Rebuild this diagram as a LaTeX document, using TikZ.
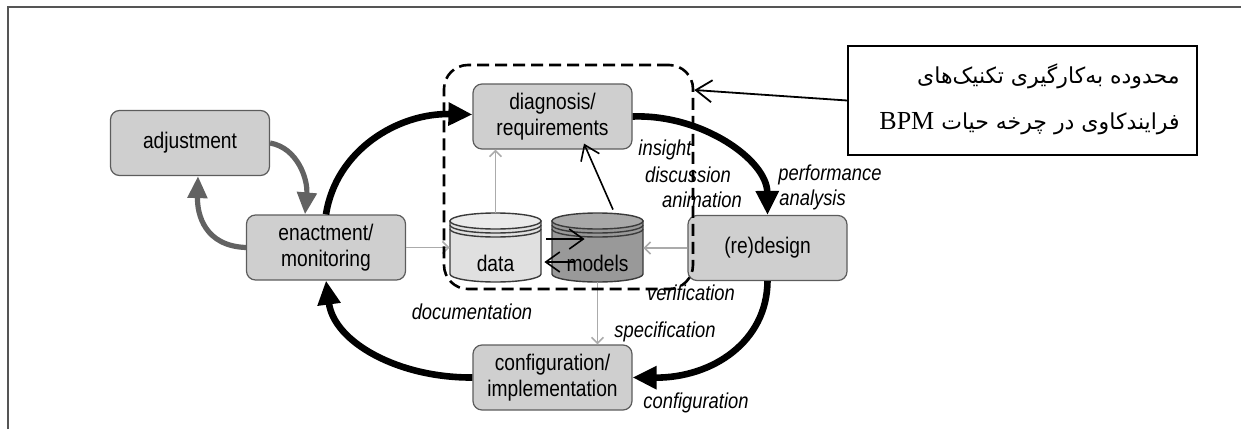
\documentclass[tikz,border=0pt]{standalone}
\usepackage{fontspec}
\setmainfont{Liberation Sans}
\newfontfamily\narrowsans[FakeStretch=0.85]{Liberation Sans}
\newfontfamily\arabicfont[Script=Arabic]{DejaVu Sans}
\newfontfamily\latinserif{Liberation Serif}
\TeXXeTstate=1
\usetikzlibrary{arrows.meta,calc}

\definecolor{boxfill}{HTML}{CFCFCF}
\definecolor{boxline}{HTML}{5C5C5C}
\definecolor{linkgray}{HTML}{ABABAB}
\definecolor{loopgray}{HTML}{626262}
\definecolor{framegray}{HTML}{555555}
\definecolor{datafill}{HTML}{E0E0E0}
\definecolor{datatop}{HTML}{EAEAEA}
\definecolor{modelfill}{HTML}{999999}
\definecolor{modeltop}{HTML}{A8A8A8}
\definecolor{drumline}{HTML}{3A3A3A}

\tikzset{
  phase/.style={draw=boxline, line width=0.6pt, fill=boxfill, rounded corners=4.5pt,
    minimum width=79.5pt, minimum height=32.5pt, inner sep=0pt, align=center,
    font=\narrowsans\fontsize{11.3}{12.7}\selectfont},
  store/.style={minimum width=45.5pt, minimum height=34.5pt, inner sep=0pt},
  storelabel/.style={inner sep=0pt, font=\narrowsans\fontsize{11.3}{12}\selectfont},
  cycle/.style={line width=3.3pt, black, -{Triangle[length=12pt,width=11pt]}},
  adjloop/.style={line width=2.6pt, loopgray, -{Triangle[length=11pt,width=9.5pt]}},
  feed/.style={line width=0.8pt, linkgray, -{Straight Barb[length=3pt,width=6pt]}},
  flow/.style={line width=0.8pt, black, -{Straight Barb[length=7pt,width=10pt]}},
  tag/.style={inner sep=0pt, font=\narrowsans\fontsize{10.8}{11}\selectfont\itshape},
  zonebox/.style={draw, black, line width=1.3pt, dash pattern=on 6pt off 3pt,
    rounded corners=12pt, minimum width=124.5pt, minimum height=112pt, inner sep=0pt},
  notebox/.style={draw, black, line width=0.9pt, minimum width=174.5pt,
    minimum height=54.5pt, inner sep=0pt},
  notetext/.style={anchor=east, inner sep=0pt, font=\arabicfont\fontsize{11}{14}\selectfont},
  pointer/.style={line width=0.9pt, black, -{Straight Barb[length=8pt,width=11pt]}},
}

% one storage drum: top ellipse centred at the shift point, units in px, y up
\newcommand{\drawdrum}[3]{%
  \begin{scope}[shift={(#1)}, x=0.5pt, y=0.5pt]
    \filldraw[fill=#2, draw=drumline, line width=0.7pt]
      (-45.5,0) -- (-45.5,-53)
      arc[start angle=180, end angle=360, x radius=45.5, y radius=8]
      -- (45.5,0) -- cycle;
    \filldraw[fill=#3, draw=drumline, line width=0.7pt]
      (0,0) ellipse[x radius=45.5, y radius=8];
    \draw[drumline, line width=0.7pt]
      (-45.5,-4) arc[start angle=180, end angle=360, x radius=45.5, y radius=8];
    \draw[drumline, line width=0.7pt]
      (-45.5,-8) arc[start angle=180, end angle=360, x radius=45.5, y radius=8];
  \end{scope}}

\begin{document}
\begin{tikzpicture}[x=0.5pt, y=-0.5pt]
\useasboundingbox (0,0) rectangle (1243,429);

% page frame
\draw[framegray, line width=1pt] (8,429) -- (8,7) -- (1241,7);

% life-cycle phases
\node[phase] (adjust) at (190,143) {adjustment};
\node[phase] (enact) at (326,247.5) {enactment/\\monitoring};
\node[phase] (diag) at (552.5,116.5) {diagnosis/\\requirements};
\node[phase] (redesign) at (767.5,248) {(re)design};
\node[phase] (config) at (552.5,377.5) {configuration/\\implementation};

% data and model stores
\drawdrum{495.5,221}{datafill}{datatop}
\drawdrum{597.5,221}{modelfill}{modeltop}
\node[store] (data) at (495.5,247.5) {};
\node[store] (models) at (597.5,247.5) {};
\node[storelabel] (datatext) at (495.5,263) {data};
\node[storelabel] (modeltext) at (597.5,263) {models};

% thin gray information links
\draw[feed] (enact.east) -- (enact.east -| data.west);
\draw[feed] (data.north) -- (data.north |- diag.south);
\draw[feed] (redesign.west) -- (redesign.west -| models.east);
\draw[feed] (models.south) -- (models.south |- config.north);

% exchange between the stores
\draw[flow] ([shift={(2.5pt,4.25pt)}]data.east) -- ([shift={(16.5pt,4.25pt)}]models.west);
\draw[flow] ([shift={(11.5pt,-7.25pt)}]models.west) -- ([shift={(1.5pt,-7.25pt)}]data.east);
\draw[flow] ([shift={(7.75pt,1.5pt)}]models.north) -- ([shift={(15.75pt,3pt)}]diag.south);

% main cycle
\draw[cycle] (enact.north) .. controls (336,150) and (398,113) .. ([yshift=1pt]diag.west);
\draw[cycle] (diag.east) .. controls (702,114) and (767,160) .. (redesign.north);
\draw[cycle] (redesign.south) .. controls (767,342) and (712,378) .. (config.east);
\draw[cycle] (config.west) .. controls (398,378) and (334,342) .. (enact.south);

% adjustment loop
\draw[adjloop] (adjust.east) .. controls (298,148) and (308,180) .. ([xshift=-10.5pt]enact.north);
\draw[adjloop] (enact.west) .. controls (205,246) and (197,215) .. ([xshift=4pt]adjust.south);

% activity labels
\node[tag] (t1) at (665,150) {insight};
\node[tag] (t2) at (688,175) {discussion};
\node[tag] (t3) at (702,200) {animation};
\node[tag, anchor=west] (t4) at (778,175) {performance};
\node[tag, anchor=west] (t5) at (779,200) {analysis};
\node[tag] (t6) at (691,293) {verification};
\node[tag] (t7) at (472,312) {documentation};
\node[tag] (t8) at (665,332) {specification};
\node[tag] (t9) at (696,403) {configuration};

% process-mining zone and its note
\node[zonebox] (zone) at (568.5,177) {};
\node[notebox] (note) at (1022.5,100.5) {};
\node[notetext] (line1) at (1180,76)
  {\beginR محدوده به‌کارگیری تکنیک‌های\endR};
\node[notetext] (line2) at (1180,124)
  {\beginR فرایندکاوی در چرخه حیات \beginL{\latinserif\fontsize{13}{14}\selectfont BPM}\endL\endR};
\draw[pointer] (note.west) -- ([yshift=43.5pt]zone.east);
\end{tikzpicture}
\end{document}
